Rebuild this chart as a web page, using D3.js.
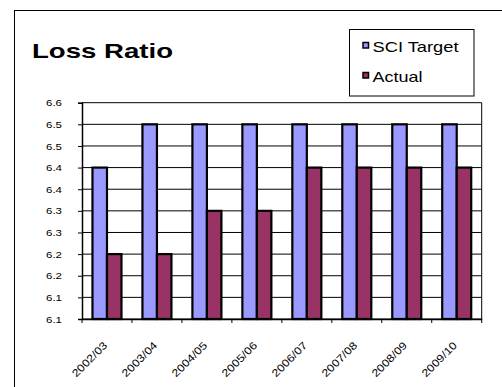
<!DOCTYPE html>
<html>
<head>
<meta charset="utf-8">
<script src="https://cdn.jsdelivr.net/npm/d3@7"></script>
<style>
  body { margin: 0; background: #fff; }
  svg { display: block; font-family: "Liberation Sans", Arial, sans-serif; }
</style>
</head>
<body>
<div id="chart"></div>
<script>
// データ---------------------------------------------------------------------------------------
const years = ['2002/03', '2003/04', '2004/05', '2005/06', '2006/07', '2007/08', '2008/09', '2009/10'];
const sciTarget = [6.40, 6.50, 6.50, 6.50, 6.50, 6.50, 6.50, 6.50];
const actual = [6.20, 6.20, 6.30, 6.30, 6.40, 6.40, 6.40, 6.40];
const yTicks = [6.05, 6.10, 6.15, 6.20, 6.25, 6.30, 6.35, 6.40, 6.45, 6.50, 6.55];
const yTickLabels = ['6.1', '6.1', '6.2', '6.2', '6.3', '6.3', '6.4', '6.4', '6.5', '6.5', '6.6'];
const seriesNames = ['SCI Target', 'Actual'];
const colors = ['#9999ff', '#993366'];

// SVG領域-------------------------------------------------------------------------------------
const width = 502;
const height = 387;
const margin = { top: 102.7, bottom: 68, left: 82, right: 20.3 };
const svg = d3.select('#chart').append('svg')
  .attr('width', width)
  .attr('height', height);

// 外枠---------------------------------------------------------------------------------------
svg.append('rect')
  .attr('x', 14.5)
  .attr('y', 10.5)
  .attr('width', width + 10)
  .attr('height', height + 10)
  .attr('fill', '#fff')
  .attr('stroke', '#000')
  .attr('stroke-width', 1);

// スケール------------------------------------------------------------------------------------
const xScale = d3.scaleBand()
  .domain(years)
  .range([margin.left, width - margin.right]);
const yScale = d3.scaleLinear()
  .domain([yTicks[0], yTicks[yTicks.length - 1]])
  .range([height - margin.bottom, margin.top]);

// グリッド線----------------------------------------------------------------------------------
svg.append('g')
  .selectAll('line')
  .data(yTicks)
  .enter()
  .append('line')
  .attr('x1', margin.left)
  .attr('x2', width - margin.right)
  .attr('y1', d => yScale(d))
  .attr('y2', d => yScale(d))
  .attr('stroke', '#000')
  .attr('stroke-width', 1);
// 右枠
svg.append('line')
  .attr('x1', width - margin.right)
  .attr('x2', width - margin.right)
  .attr('y1', margin.top)
  .attr('y2', height - margin.bottom)
  .attr('stroke', '#000')
  .attr('stroke-width', 1);

// バー---------------------------------------------------------------------------------------
const barW = 14.5;
const group = svg.append('g')
  .selectAll('g')
  .data(years)
  .enter()
  .append('g')
  .attr('transform', d => 'translate(' + (xScale(d) + xScale.bandwidth() / 2) + ',0)');
[sciTarget, actual].forEach((vals, s) => {
  group.append('rect')
    .attr('x', s === 0 ? -barW : 0)
    .attr('y', (d, i) => yScale(vals[i]))
    .attr('width', barW)
    .attr('height', (d, i) => yScale(yTicks[0]) - yScale(vals[i]))
    .attr('fill', colors[s])
    .attr('stroke', '#000')
    .attr('stroke-width', 2.2);
});

// y軸----------------------------------------------------------------------------------------
const yAxis = d3.axisLeft(yScale)
  .tickValues(yTicks)
  .tickSize(4)
  .tickPadding(4)
  .tickFormat((d, i) => yTickLabels[i]);
const yg = svg.append('g')
  .attr('transform', 'translate(' + margin.left + ',0)')
  .call(yAxis);
yg.select('.domain').attr('stroke', '#000').attr('stroke-width', 1.5);
yg.selectAll('.tick line').attr('stroke', '#000');
yg.selectAll('.tick text')
  .attr('x', -20)
  .attr('font-size', '9.5px')
  .attr('fill', '#000')
  .attr('font-family', '"Liberation Sans", Arial, sans-serif')
  .attr('textLength', 16)
  .attr('lengthAdjust', 'spacingAndGlyphs');

// x軸----------------------------------------------------------------------------------------
const xAxis = d3.axisBottom(xScale)
  .tickSize(0)
  .tickFormat(d => d);
const xg = svg.append('g')
  .attr('transform', 'translate(0,' + (height - margin.bottom) + ')')
  .call(xAxis);
xg.select('.domain').attr('stroke', '#000').attr('stroke-width', 1.5);
xg.selectAll('.tick text')
  .attr('font-size', '10.5px')
  .attr('fill', '#000')
  .attr('font-family', '"Liberation Sans", Arial, sans-serif')
  .attr('text-anchor', 'end')
  .attr('dy', 0)
  .attr('y', 0)
  .attr('transform', 'translate(1,27) rotate(-45)')
  .attr('textLength', 45)
  .attr('lengthAdjust', 'spacingAndGlyphs');
// 区切り目盛
svg.append('g')
  .selectAll('line')
  .data(years.concat(['end']))
  .enter()
  .append('line')
  .attr('x1', (d, i) => xScale.range()[0] + i * xScale.step())
  .attr('x2', (d, i) => xScale.range()[0] + i * xScale.step())
  .attr('y1', height - margin.bottom)
  .attr('y2', height - margin.bottom + 4)
  .attr('stroke', '#000');

// 表名-------------------------------------------------------------------------------------
svg.append('text')
  .attr('x', 32)
  .attr('y', 58)
  .attr('font-size', '21px')
  .attr('font-weight', 'bold')
  .attr('textLength', 141)
  .attr('lengthAdjust', 'spacingAndGlyphs')
  .text('Loss Ratio');

// 凡例---------------------------------------------------------------------------------------
const legend = svg.append('g');
legend.append('rect')
  .attr('x', 349.5)
  .attr('y', 29.5)
  .attr('width', 124.5)
  .attr('height', 66.5)
  .attr('fill', '#fff')
  .attr('stroke', '#000');
const item = legend.selectAll('.item')
  .data(seriesNames)
  .enter()
  .append('g')
  .attr('class', 'item')
  .attr('transform', (d, i) => 'translate(0,' + (i * 30) + ')');
item.append('rect')
  .attr('x', 363)
  .attr('y', 42.5)
  .attr('width', 5.5)
  .attr('height', 5.5)
  .attr('fill', (d, i) => colors[i])
  .attr('stroke', '#000')
  .attr('stroke-width', 1.5);
item.append('text')
  .attr('x', 372.5)
  .attr('y', 52)
  .attr('font-size', '14.5px')
  .attr('textLength', (d, i) => i === 0 ? 86 : 50)
  .attr('lengthAdjust', 'spacingAndGlyphs')
  .text(d => d);
</script>
</body>
</html>
